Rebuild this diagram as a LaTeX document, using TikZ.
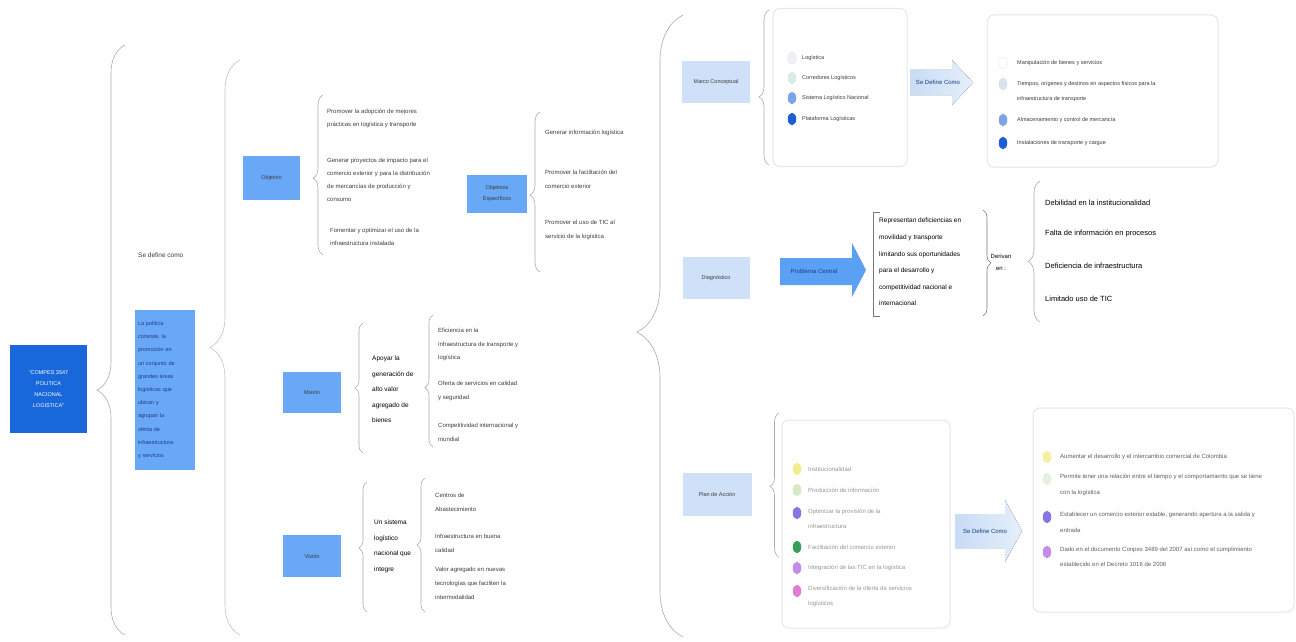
\documentclass[tikz,border=0pt]{standalone}
\usepackage{fontspec}
\setmainfont{Liberation Sans}
\usetikzlibrary{decorations.pathreplacing,shapes.geometric}

\definecolor{deepblue}{RGB}{24,104,220}
\definecolor{midblue}{RGB}{104,168,246}
\definecolor{paleblue}{RGB}{207,225,249}
\definecolor{arrowblue}{RGB}{90,160,244}
\definecolor{arrowpale}{RGB}{200,220,246}
\definecolor{arrowmist}{RGB}{230,239,251}
\definecolor{bracegray}{RGB}{170,170,170}
\definecolor{bracedark}{RGB}{120,120,120}
\definecolor{ink}{RGB}{60,60,60}
\definecolor{softink}{RGB}{150,150,150}
\definecolor{midink}{RGB}{95,95,95}
\definecolor{navyink}{RGB}{30,60,130}
\definecolor{cardline}{RGB}{228,230,234}
% item markers
\definecolor{dotwhite}{RGB}{238,240,243}
\definecolor{dotmint}{RGB}{216,236,228}
\definecolor{dotsteel}{RGB}{124,164,232}
\definecolor{dotnavy}{RGB}{28,94,212}
\definecolor{dotmist}{RGB}{218,225,236}
\definecolor{dotyellow}{RGB}{244,236,140}
\definecolor{dotsage}{RGB}{214,234,200}
\definecolor{dotiris}{RGB}{134,118,228}
\definecolor{dotgreen}{RGB}{54,160,88}
\definecolor{dotlilac}{RGB}{196,140,232}
\definecolor{dotorchid}{RGB}{226,124,214}
\definecolor{dotcream}{RGB}{244,240,160}
\definecolor{dotfoam}{RGB}{228,240,224}

\begin{document}
\begin{tikzpicture}[x=1pt,y=-1pt,
  every node/.style={inner sep=0pt},
  txt/.style={font=\fontsize{6}{13}\selectfont, text=ink, align=left, anchor=north west},
  rootbox/.style={fill=deepblue, text=white, align=center,
    font=\fontsize{5.5}{11}\selectfont},
  midbox/.style={fill=midblue, text=ink, align=center,
    font=\fontsize{5.5}{11}\selectfont},
  palebox/.style={fill=paleblue, text=ink, align=center,
    font=\fontsize{5.5}{11}\selectfont},
  card/.style={draw=cardline, line width=1pt, fill=white, rounded corners=7pt},
  itemdot/.style={ellipse, minimum width=8.5pt, minimum height=12.5pt},
  curly/.style 2 args={draw=bracegray, line width=0.6pt, decorate,
    decoration={brace, amplitude=#1, aspect=#2}},
  arrowlabel/.style={font=\fontsize{6}{8}\selectfont, text=navyink},
]
\useasboundingbox (0,0) rectangle (1296,642);

% ---------- root and definition ----------
\node[rootbox, minimum width=77pt, minimum height=88pt] (root) at (48.5,389)
  {“COMPES 3547\\POLITICA\\NACIONAL\\LOGISTICA”};

\coordinate (b1s) at (125,635); \coordinate (b1e) at (125,45);
\draw[curly={28pt}{0.415}] (b1s) -- (b1e);

\node[txt, font=\fontsize{6.5}{8}\selectfont] (sdc) at (138,253) {Se define como};

\node[midbox, text=navyink, minimum width=60pt, minimum height=160pt,
  text width=54pt, align=left, font=\fontsize{5.5}{13.2}\selectfont] (def) at (165,390)
  {La política\\consiste, la\\promoción en\\un conjunto de\\grandes áreas\\logísticas que\\ubican y\\agrupan la\\oferta de\\infraestructura\\y servicios};

\coordinate (b2s) at (240,635); \coordinate (b2e) at (240,60);
\draw[curly={30pt}{0.5}, draw=bracegray!70] (b2s) -- (b2e);

% ---------- objetivo ----------
\node[midbox, minimum width=57pt, minimum height=44pt] (obj) at (271.5,178) {Objetivo};
\coordinate (b3s) at (323,255); \coordinate (b3e) at (323,95);
\draw[curly={10pt}{0.48}] (b3s) -- (b3e);
\node[txt] (o1) at (327,109) {Promover la adopción de mejores\\prácticas en logística y transporte};
\node[txt] (o2) at (327,158) {Generar proyectos de impacto para el\\comercio exterior y para la distribución\\de mercancías de producción y\\consumo};
\node[txt] (o3) at (330,228) {Fomentar y optimizar el uso de la\\infraestructura instalada};

\node[midbox, minimum width=60pt, minimum height=38pt] (oesp) at (497,194) {Objetivos\\Específicos};
\coordinate (b4s) at (540,272); \coordinate (b4e) at (540,112);
\draw[curly={10pt}{0.48}] (b4s) -- (b4e);
\node[txt] (e1) at (545,130) {Generar información logística};
\node[txt, font=\fontsize{6}{14}\selectfont] (e2) at (545,170) {Promover la facilitación del\\comercio exterior};
\node[txt, font=\fontsize{6}{14}\selectfont] (e3) at (545,220) {Promover el uso de TIC al\\servicio de la logística};

% ---------- mision ----------
\node[midbox, minimum width=58pt, minimum height=41pt] (mis) at (312,392) {Misión};
\coordinate (b5s) at (363,453); \coordinate (b5e) at (363,323);
\draw[curly={8pt}{0.5}] (b5s) -- (b5e);
\node[txt, font=\fontsize{6.5}{15.5}\selectfont, text=black] (mtxt) at (372,356)
  {Apoyar la\\generación de\\alto valor\\agregado de\\bienes};
\coordinate (b6s) at (433,447); \coordinate (b6e) at (433,315);
\draw[curly={8pt}{0.45}] (b6s) -- (b6e);
\node[txt, font=\fontsize{6}{13.5}\selectfont] (m1) at (438,328) {Eficiencia en la\\infraestructura de transporte y\\logística};
\node[txt, font=\fontsize{6}{13.5}\selectfont] (m2) at (438,381) {Oferta de servicios en calidad\\y seguridad};
\node[txt, font=\fontsize{6}{13.5}\selectfont] (m3) at (438,423) {Competitividad internacional y\\mundial};

% ---------- vision ----------
\node[midbox, minimum width=58pt, minimum height=42pt] (vis) at (312,556) {Visión};
\coordinate (b7s) at (367,612); \coordinate (b7e) at (367,482);
\draw[curly={8pt}{0.49}] (b7s) -- (b7e);
\node[txt, font=\fontsize{6.5}{15.5}\selectfont, text=black] (vtxt) at (374,520)
  {Un sistema\\logístico\\nacional que\\integre};
\coordinate (b8s) at (425,612); \coordinate (b8e) at (425,478);
\draw[curly={8pt}{0.5}] (b8s) -- (b8e);
\node[txt, font=\fontsize{6}{14}\selectfont] (v1) at (435,493) {Centros de\\Abastecimiento};
\node[txt, font=\fontsize{6}{13.5}\selectfont] (v2) at (435,534) {Infraestructura en buena\\calidad};
\node[txt, font=\fontsize{6}{14}\selectfont] (v3) at (435,567) {Valor agregado en nuevas\\tecnologías que faciliten la\\intermodalidad};

% ---------- right column ----------
\coordinate (b9s) at (683,637); \coordinate (b9e) at (683,15);
\draw[curly={46pt}{0.49}] (b9s) -- (b9e);

\node[palebox, minimum width=68pt, minimum height=41pt] (marco) at (716,82) {Marco Conceptual};
\node[palebox, minimum width=67pt, minimum height=42pt] (diag) at (716,278) {Diagnóstico};
\node[palebox, minimum width=69pt, minimum height=43pt] (plan) at (717,494) {Plan de Acción};

% marco conceptual card
\node[card, minimum width=134pt, minimum height=158pt] (mcard) at (840,87.5) {};
\coordinate (b10s) at (769,165); \coordinate (b10e) at (769,10);
\draw[curly={10pt}{0.44}] (b10s) -- (b10e);
\node[itemdot, fill=dotwhite, draw=cardline] (mc1) at (792,58) {};
\node[itemdot, fill=dotmint] (mc2) at (792,78) {};
\node[itemdot, fill=dotsteel] (mc3) at (792,98) {};
\node[itemdot, fill=dotnavy] (mc4) at (792,119) {};
\node[txt, anchor=west, font=\fontsize{5.5}{7}\selectfont] (mt1) at (802,58) {Logística};
\node[txt, anchor=west, font=\fontsize{5.5}{7}\selectfont] (mt2) at (802,78) {Corredores Logísticos};
\node[txt, anchor=west, font=\fontsize{5.5}{7}\selectfont] (mt3) at (802,98) {Sistema Logístico Nacional};
\node[txt, anchor=west, font=\fontsize{5.5}{7}\selectfont] (mt4) at (802,119) {Plataforma Logísticas};

\fill[left color=arrowpale, right color=arrowmist]
  (910,70) -- (952,70) -- (952,60) -- (973,82.5) -- (952,105) -- (952,95) -- (910,95) -- cycle;
\node[arrowlabel] (sd1) at (938,82.5) {Se Define Como};

\node[card, minimum width=231pt, minimum height=152pt] (dcard) at (1102.5,91) {};
\node[itemdot, fill=white, draw=cardline] (dc1) at (1003,63) {};
\node[itemdot, fill=dotmist] (dc2) at (1003,84) {};
\node[itemdot, fill=dotsteel] (dc3) at (1003,120) {};
\node[itemdot, fill=dotnavy] (dc4) at (1003,143) {};
\node[txt, anchor=west, font=\fontsize{5.5}{7}\selectfont] (dt1) at (1017,63) {Manipulación de bienes y servicios};
\node[txt, font=\fontsize{5.5}{15}\selectfont] (dt2) at (1017,81) {Tiempos, orígenes y destinos en aspectos físicos para la\\infraestructura de transporte};
\node[txt, anchor=west, font=\fontsize{5.5}{7}\selectfont] (dt3) at (1017,120) {Almacenamiento y control de mercancía};
\node[txt, anchor=west, font=\fontsize{5.5}{7}\selectfont] (dt4) at (1017,143) {Instalaciones de transporte y cargue};

% diagnostico
\fill[arrowblue]
  (780,258) -- (852,258) -- (852,243) -- (866,270) -- (852,297) -- (852,285) -- (780,285) -- cycle;
\node[arrowlabel, text=navyink] (pc) at (814,271) {Problema Central};

\coordinate (sq1) at (880,212); \coordinate (sq2) at (873,212);
\coordinate (sq3) at (873,316); \coordinate (sq4) at (880,316);
\draw[bracedark, line width=0.7pt] (sq1) -- (sq2) -- (sq3) -- (sq4);
\node[txt, font=\fontsize{6.5}{16.6}\selectfont, text=black] (rep) at (879,218)
  {Representan deficiencias en\\movilidad y transporte\\limitando sus oportunidades\\para el desarrollo y\\competitividad nacional e\\internacional};

\coordinate (b11s) at (983,210); \coordinate (b11e) at (983,316);
\draw[curly={8pt}{0.5}, draw=bracedark] (b11s) -- (b11e);
\node[font=\fontsize{6}{12}\selectfont, align=center, text=black] (der) at (1001,262) {Derivan\\en :};

\coordinate (b12s) at (1040,322); \coordinate (b12e) at (1040,181);
\draw[curly={12pt}{0.43}] (b12s) -- (b12e);
\node[txt, anchor=west, font=\fontsize{7.5}{9}\selectfont, text=black] (c1) at (1045,203) {Debilidad en la institucionalidad};
\node[txt, anchor=west, font=\fontsize{7.5}{9}\selectfont, text=black] (c2) at (1045,234) {Falta de información en procesos};
\node[txt, anchor=west, font=\fontsize{7.5}{9}\selectfont, text=black] (c3) at (1045,266) {Deficiencia de infraestructura};
\node[txt, anchor=west, font=\fontsize{7.5}{9}\selectfont, text=black] (c4) at (1045,299) {Limitado uso de TIC};

% plan de accion
\node[card, minimum width=168pt, minimum height=208pt] (pcard) at (866,524) {};
\coordinate (b13s) at (779,557); \coordinate (b13e) at (779,413);
\draw[curly={9pt}{0.49}] (b13s) -- (b13e);
\node[itemdot, fill=dotyellow] (pa1) at (797,469) {};
\node[itemdot, fill=dotsage] (pa2) at (797,490) {};
\node[itemdot, fill=dotiris] (pa3) at (797,513) {};
\node[itemdot, fill=dotgreen] (pa4) at (797,547) {};
\node[itemdot, fill=dotlilac] (pa5) at (797,568) {};
\node[itemdot, fill=dotorchid] (pa6) at (797,591) {};
\node[txt, anchor=west, text=softink] (pt1) at (808,469) {Institucionalidad};
\node[txt, anchor=west, text=softink] (pt2) at (808,490) {Producción de información};
\node[txt, text=softink, font=\fontsize{6}{15}\selectfont] (pt3) at (808,509) {Optimizar la provisión de la\\infraestructura};
\node[txt, anchor=west, text=softink] (pt4) at (808,547) {Facilitación del comercio exterior};
\node[txt, anchor=west, text=softink] (pt5) at (808,568) {Integración de las TIC en la logística};
\node[txt, text=softink, font=\fontsize{6}{15}\selectfont] (pt6) at (808,586) {Diversificación de la oferta de servicios\\logísticos};

\fill[left color=arrowpale, right color=arrowmist]
  (955,514) -- (1005,514) -- (1005,500) -- (1022,531) -- (1005,562) -- (1005,548) -- (955,548) -- cycle;
\node[arrowlabel] (sd2) at (985,531) {Se Define Como};

\node[card, minimum width=261pt, minimum height=204pt] (rcard) at (1163.5,510) {};
\node[itemdot, fill=dotcream] (rc1) at (1047,457) {};
\node[itemdot, fill=dotfoam] (rc2) at (1047,479) {};
\node[itemdot, fill=dotiris] (rc3) at (1047,517) {};
\node[itemdot, fill=dotlilac] (rc4) at (1047,552) {};
\node[txt, anchor=west, text=midink] (rt1) at (1060,457) {Aumentar el desarrollo y el intercambio comercial de Colombia};
\node[txt, text=midink, font=\fontsize{6}{16}\selectfont] (rt2) at (1060,474) {Permite tener una relación entre el tiempo y el comportamiento que se tiene\\con la logística};
\node[txt, text=midink, font=\fontsize{6}{16}\selectfont] (rt3) at (1060,512) {Establecer un comercio exterior estable, generando apertura a la salida y\\entrada};
\node[txt, text=midink, font=\fontsize{6}{15}\selectfont] (rt4) at (1060,547) {Dado en el documento Conpes 3489 del 2007 así como el cumplimiento\\establecido en el Decreto 1016 de 2006};

\end{tikzpicture}
\end{document}
